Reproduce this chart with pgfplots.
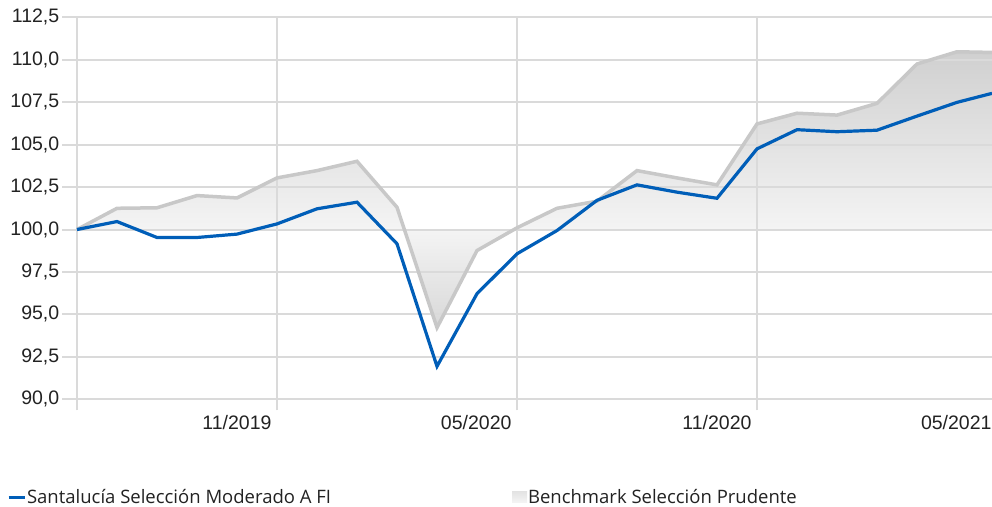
\documentclass[border=0pt]{standalone}
\usepackage{pgfplots}
\pgfplotsset{compat=1.18}
\usepackage{pgfplotstable}
\usepackage{fontspec}
\setmainfont{Liberation Sans}
\newfontfamily\legendfont{Open Sans}

\definecolor{gridc}{RGB}{218,218,218}
\definecolor{benchc}{RGB}{200,200,200}
\definecolor{fundc}{RGB}{0,94,184}
\definecolor{txt}{RGB}{34,34,34}
\definecolor{shTop}{RGB}{208,208,208}
\definecolor{shMid}{RGB}{244,244,244}
\definecolor{shBot}{RGB}{216,216,216}

% 25bp = bottom of the area (94.22), 75bp = top (110.47), 100 sits at 42.8bp
\pgfdeclareverticalshading{benchshade}{100bp}{%
  color(0bp)=(shBot); color(25bp)=(shBot); color(42.8bp)=(shMid);
  color(75bp)=(shTop); color(100bp)=(shTop)}

\pgfplotstableread{
x      y
0      100.00
1      101.25
2      101.28
3      102.00
4      101.86
5      103.04
6      103.47
7      104.02
8      101.31
9      94.22
10     98.76
11     100.10
12     101.25
13     101.67
14     103.47
15     103.04
16     102.63
17     106.22
18     106.85
19     106.74
20     107.43
21     109.75
22     110.47
22.875 110.43
}\bench

\pgfplotstableread{
x      y
0      100.00
1      100.47
2      99.53
3      99.53
4      99.73
5      100.33
6      101.22
7      101.61
8      99.16
9      91.94
10     96.22
11     98.57
12     99.94
13     101.72
14     102.63
15     102.20
16     101.84
17     104.75
18     105.88
19     105.76
20     105.85
21     106.68
22     107.49
22.875 108.02
}\fund

\begin{document}
\begin{tikzpicture}
\begin{axis}[
    set layers=standard,
    scale only axis,
    width=920bp, height=382bp,
    xmin=0, xmax=23,
    ymin=90, ymax=112.5,
    clip=false,
    axis line style={draw=none},
    xtick={5,11,17,23},
    xticklabels={11/2019, 05/2020, 11/2020, 05/2021},
    extra x ticks={0},
    extra x tick labels={},
    ytick={90,92.5,...,112.5},
    grid=major,
    major grid style={draw=gridc, line width=2bp},
    tick align=outside,
    xtick pos=bottom, ytick pos=left,
    tick style={draw=gridc, line width=2bp},
    xtick style={/pgfplots/major tick length=11bp},
    ytick style={/pgfplots/major tick length=15bp},
    extra x tick style={grid=major, tick style={draw=gridc, line width=2bp}},
    /pgf/number format/.cd, fixed, fixed zerofill, precision=1, use comma, assume math mode=true,
    /pgfplots/.cd,
    ticklabel style={font=\fontsize{19.5bp}{22bp}\selectfont, text=txt},
    xticklabel style={anchor=north east, xshift=-2bp, yshift=-8bp},
    yticklabel style={anchor=east, xshift=-10bp},
    legend columns=2,
    legend style={draw=none, fill=none, at={(axis description cs:-0.0795,-0.2558)}, anchor=west,
        font=\legendfont\fontsize{18.5bp}{21bp}\selectfont, text=txt,
        nodes={inner sep=1bp},
        /tikz/every even column/.append style={column sep=180bp}},
    legend cell align=left,
]
\addplot[draw=none, shading=benchshade, on layer=axis background, forget plot]
    table[x=x, y=y] {\bench} -- (axis cs:22.875,100) -- cycle;
\addplot[draw=benchc, line width=3.5bp, forget plot] table[x=x, y=y] {\bench};
\addplot[draw=fundc, line width=3.2bp, forget plot] table[x=x, y=y] {\fund};

\addlegendimage{legend image code/.code={\draw[fundc, line width=3bp] (0bp,0bp) -- (16bp,0bp);}}
\addlegendentry{Santalucía Selección Moderado A FI}
\addlegendimage{legend image code/.code={\path[draw=none, top color=shTop!60!white, bottom color=shMid] (0bp,-5.5bp) rectangle (15bp,5.5bp);}}
\addlegendentry{Benchmark Selección Prudente}
\end{axis}
\pgfresetboundingbox
\path (-77bp,-107.7bp) rectangle (915bp,399.3bp);
\end{tikzpicture}
\end{document}
